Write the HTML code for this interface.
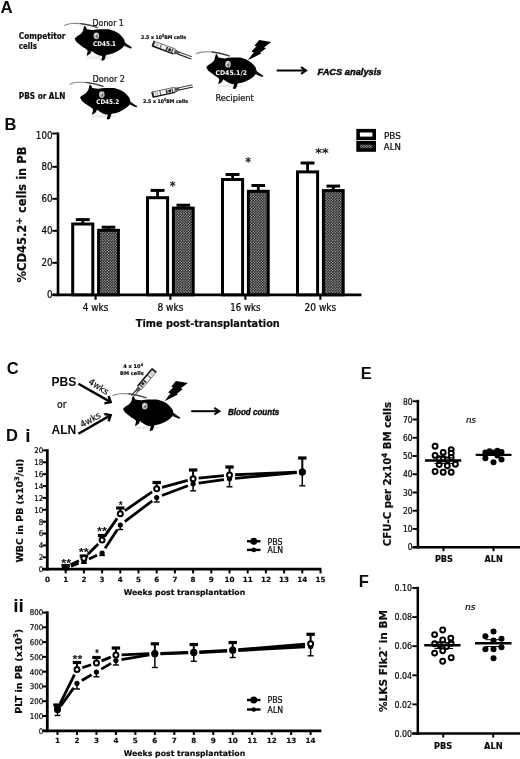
<!DOCTYPE html>
<html lang="en"><head><meta charset="utf-8"><title>Figure</title>
<style>html,body{margin:0;padding:0;background:#fff}svg{display:block;will-change:transform;filter:blur(.35px)}text{stroke:none}.r,.ri{stroke:#0b0b0b;stroke-width:.22px}.ai{stroke:#0b0b0b;stroke-width:.45px}.r{font-family:"DejaVu Sans Condensed","Liberation Sans",sans-serif}.ri{font-family:"DejaVu Sans Condensed","Liberation Sans",sans-serif;font-style:italic}.b,.w{font-family:"DejaVu Sans","Liberation Sans",sans-serif;font-weight:bold}.b{stroke:#0b0b0b;stroke-width:.18px}.a{font-family:"Liberation Sans","DejaVu Sans",sans-serif;font-weight:bold}.ai{font-family:"Liberation Sans","DejaVu Sans",sans-serif;font-weight:bold;font-style:italic}</style></head>
<body>
<svg width="520" height="759" viewBox="0 0 520 759">
<defs><pattern id="chk" width="2.7" height="2.7" patternUnits="userSpaceOnUse"><rect width="2.7" height="2.7" fill="#000"/><circle cx="0.675" cy="0.675" r="0.64" fill="#fff"/><circle cx="2.025" cy="2.025" r="0.64" fill="#fff"/></pattern></defs>
<rect width="520" height="759" fill="#fff"/>
<g stroke="#000" fill="#0b0b0b">
<text class="a" x="0.6" y="12.5" font-size="16.8">A</text>
<text class="b" x="18.8" y="38.5" font-size="8.2" textLength="46.6" lengthAdjust="spacingAndGlyphs">Competitor</text>
<text class="b" x="18.8" y="48.5" font-size="8.2" textLength="18.2" lengthAdjust="spacingAndGlyphs">cells</text>
<text class="b" x="18.8" y="98.5" font-size="8.2" textLength="46.6" lengthAdjust="spacingAndGlyphs">PBS or ALN</text>
<g transform="translate(74.6 38.5) scale(1)" stroke="none">
<path d="M23 -11 C 16 -13.5, 6 -15.5, -2 -15 C -6 -14.7, -8.5 -14, -10 -13" fill="none" stroke="#8a8a8a" stroke-width="1.1" stroke-linecap="round"/>
<path d="M23 -11 C 18 -12.8, 12 -14.3, 6 -14.9" fill="none" stroke="#444" stroke-width="1.3" stroke-linecap="round"/>
<ellipse cx="24" cy="19" rx="13" ry="1.6" fill="#ececec"/>
<path d="M0 0 C 1.5 -1.5, 3.5 -2.8, 5.4 -3.9 C 6.8 -5, 7.8 -6.4, 8.5 -7.7 C 8.8 -9.8, 9.3 -11.8, 10 -13.1 C 11 -12, 11.8 -10.6, 12.3 -9.3 C 14.5 -8.9, 16.5 -8.6, 18.5 -8.5 C 21 -9, 23 -9.3, 25.4 -9.3 L 33.1 -9.3 C 36 -8.9, 38.5 -8.1, 40.8 -7 C 43.3 -5.8, 45.4 -4.2, 47 -2.3 C 48.5 -1, 49.6 0.6, 50 2.3 C 50.4 3.6, 50.4 5, 50 6.2 C 49.4 7.8, 48.4 9, 47 10 C 44.6 11.9, 42 13.4, 39.2 14.6 C 36.8 15.6, 34.2 16.2, 31.5 16.5 C 31 18.2, 30.4 20, 29.8 21.6 L 27.4 22.2 L 26.6 21.2 C 27.4 20, 27.8 18.6, 27.6 17.3 C 25 17.2, 23.2 16.4, 21.5 15.4 C 19.8 14.5, 18.3 13.4, 16.9 12.3 C 16.8 13.6, 16 14.8, 15 15.6 C 14.2 16.3, 13.2 16.9, 12 17.4 C 12.4 15.8, 12.8 14, 13.1 12.3 C 12.4 11.5, 11.6 10.7, 10.8 10 C 9.2 9.1, 7.7 8, 6.2 6.9 C 5.1 6.2, 4.1 5.4, 3.1 4.6 C 1.8 3.4, 0.6 1.8, 0 0 Z" fill="#000"/>
<path d="M49.6 3.6 C 52 5.2, 54.8 7.4, 57.2 8.8 L 56.4 10.2 C 53.4 9.2, 50.6 7.8, 48.6 6.8 Z" fill="#111"/>
<ellipse cx="21.8" cy="-2.7" rx="2.8" ry="3.4" fill="#c2c2c2"/>
<ellipse cx="22.2" cy="-2.2" rx="1.1" ry="1.8" fill="#6a6a6a"/>
<ellipse cx="21.2" cy="-3.8" rx="1" ry="0.9" fill="#e2e2e2"/>
</g>
<g transform="translate(80 97.3) scale(1)" stroke="none">
<path d="M23 -11 C 16 -13.5, 6 -15.5, -2 -15 C -6 -14.7, -8.5 -14, -10 -13" fill="none" stroke="#8a8a8a" stroke-width="1.1" stroke-linecap="round"/>
<path d="M23 -11 C 18 -12.8, 12 -14.3, 6 -14.9" fill="none" stroke="#444" stroke-width="1.3" stroke-linecap="round"/>
<ellipse cx="24" cy="19" rx="13" ry="1.6" fill="#ececec"/>
<path d="M0 0 C 1.5 -1.5, 3.5 -2.8, 5.4 -3.9 C 6.8 -5, 7.8 -6.4, 8.5 -7.7 C 8.8 -9.8, 9.3 -11.8, 10 -13.1 C 11 -12, 11.8 -10.6, 12.3 -9.3 C 14.5 -8.9, 16.5 -8.6, 18.5 -8.5 C 21 -9, 23 -9.3, 25.4 -9.3 L 33.1 -9.3 C 36 -8.9, 38.5 -8.1, 40.8 -7 C 43.3 -5.8, 45.4 -4.2, 47 -2.3 C 48.5 -1, 49.6 0.6, 50 2.3 C 50.4 3.6, 50.4 5, 50 6.2 C 49.4 7.8, 48.4 9, 47 10 C 44.6 11.9, 42 13.4, 39.2 14.6 C 36.8 15.6, 34.2 16.2, 31.5 16.5 C 31 18.2, 30.4 20, 29.8 21.6 L 27.4 22.2 L 26.6 21.2 C 27.4 20, 27.8 18.6, 27.6 17.3 C 25 17.2, 23.2 16.4, 21.5 15.4 C 19.8 14.5, 18.3 13.4, 16.9 12.3 C 16.8 13.6, 16 14.8, 15 15.6 C 14.2 16.3, 13.2 16.9, 12 17.4 C 12.4 15.8, 12.8 14, 13.1 12.3 C 12.4 11.5, 11.6 10.7, 10.8 10 C 9.2 9.1, 7.7 8, 6.2 6.9 C 5.1 6.2, 4.1 5.4, 3.1 4.6 C 1.8 3.4, 0.6 1.8, 0 0 Z" fill="#000"/>
<path d="M49.6 3.6 C 52 5.2, 54.8 7.4, 57.2 8.8 L 56.4 10.2 C 53.4 9.2, 50.6 7.8, 48.6 6.8 Z" fill="#111"/>
<ellipse cx="21.8" cy="-2.7" rx="2.8" ry="3.4" fill="#c2c2c2"/>
<ellipse cx="22.2" cy="-2.2" rx="1.1" ry="1.8" fill="#6a6a6a"/>
<ellipse cx="21.2" cy="-3.8" rx="1" ry="0.9" fill="#e2e2e2"/>
</g>
<g transform="translate(206.2 66.9) scale(1)" stroke="none">
<path d="M23 -11 C 16 -13.5, 6 -15.5, -2 -15 C -6 -14.7, -8.5 -14, -10 -13" fill="none" stroke="#8a8a8a" stroke-width="1.1" stroke-linecap="round"/>
<path d="M23 -11 C 18 -12.8, 12 -14.3, 6 -14.9" fill="none" stroke="#444" stroke-width="1.3" stroke-linecap="round"/>
<ellipse cx="24" cy="19" rx="13" ry="1.6" fill="#ececec"/>
<path d="M0 0 C 1.5 -1.5, 3.5 -2.8, 5.4 -3.9 C 6.8 -5, 7.8 -6.4, 8.5 -7.7 C 8.8 -9.8, 9.3 -11.8, 10 -13.1 C 11 -12, 11.8 -10.6, 12.3 -9.3 C 14.5 -8.9, 16.5 -8.6, 18.5 -8.5 C 21 -9, 23 -9.3, 25.4 -9.3 L 33.1 -9.3 C 36 -8.9, 38.5 -8.1, 40.8 -7 C 43.3 -5.8, 45.4 -4.2, 47 -2.3 C 48.5 -1, 49.6 0.6, 50 2.3 C 50.4 3.6, 50.4 5, 50 6.2 C 49.4 7.8, 48.4 9, 47 10 C 44.6 11.9, 42 13.4, 39.2 14.6 C 36.8 15.6, 34.2 16.2, 31.5 16.5 C 31 18.2, 30.4 20, 29.8 21.6 L 27.4 22.2 L 26.6 21.2 C 27.4 20, 27.8 18.6, 27.6 17.3 C 25 17.2, 23.2 16.4, 21.5 15.4 C 19.8 14.5, 18.3 13.4, 16.9 12.3 C 16.8 13.6, 16 14.8, 15 15.6 C 14.2 16.3, 13.2 16.9, 12 17.4 C 12.4 15.8, 12.8 14, 13.1 12.3 C 12.4 11.5, 11.6 10.7, 10.8 10 C 9.2 9.1, 7.7 8, 6.2 6.9 C 5.1 6.2, 4.1 5.4, 3.1 4.6 C 1.8 3.4, 0.6 1.8, 0 0 Z" fill="#000"/>
<path d="M49.6 3.6 C 52 5.2, 54.8 7.4, 57.2 8.8 L 56.4 10.2 C 53.4 9.2, 50.6 7.8, 48.6 6.8 Z" fill="#111"/>
<ellipse cx="21.8" cy="-2.7" rx="2.8" ry="3.4" fill="#c2c2c2"/>
<ellipse cx="22.2" cy="-2.2" rx="1.1" ry="1.8" fill="#6a6a6a"/>
<ellipse cx="21.2" cy="-3.8" rx="1" ry="0.9" fill="#e2e2e2"/>
</g>
<text class="r" x="92.6" y="25.8" font-size="8.8" fill="#222" textLength="31.2" lengthAdjust="spacingAndGlyphs">Donor 1</text>
<text class="r" x="92.6" y="82" font-size="8.8" fill="#222" textLength="32.4" lengthAdjust="spacingAndGlyphs">Donor 2</text>
<text class="r" x="215.4" y="100.8" font-size="8.8" fill="#222" textLength="38.4" lengthAdjust="spacingAndGlyphs">Recipient</text>
<text class="w" x="93.1" y="45.5" font-size="6.4" fill="#fff" textLength="23" lengthAdjust="spacingAndGlyphs">CD45.1</text>
<text class="w" x="96.2" y="103.8" font-size="6.4" fill="#fff" textLength="23" lengthAdjust="spacingAndGlyphs">CD45.2</text>
<text class="w" x="215.4" y="74.6" font-size="6.4" fill="#fff" textLength="31.6" lengthAdjust="spacingAndGlyphs">CD45.1/2</text>
<text class="b" x="141" y="38.8" font-size="5.1" textLength="45" lengthAdjust="spacingAndGlyphs">2.5 x 10<tspan dy="-2" font-size="3.5">5</tspan><tspan dy="2">BM cells</tspan></text>
<text class="b" x="143" y="103.4" font-size="5.1" textLength="45" lengthAdjust="spacingAndGlyphs">2.5 x 10<tspan dy="-2" font-size="3.5">5</tspan><tspan dy="2">BM cells</tspan></text>
<g transform="translate(153.3 43.6) rotate(20.5)" stroke="none">
<rect x="0" y="-2.6" width="22.5" height="5.2" fill="#f2f2f2"/>
<rect x="-0.8" y="-2.9" width="2" height="5.8" fill="#222"/>
<rect x="2.2" y="-1.7" width="3.6" height="3.2" fill="#cfcfcf"/>
<rect x="7.4" y="-2.4" width="1.1" height="4.6" fill="#666"/>
<rect x="13.6" y="-1.9" width="1.6" height="3.6" fill="#333"/>
<rect x="16.2" y="-1.3" width="2.6" height="2.8" fill="#222"/>
<rect x="19.6" y="-2" width="1.3" height="4" fill="#444"/>
<line x1="0" y1="-2.6" x2="22.5" y2="-2.6" stroke="#6e6e6e" stroke-width="0.9"/>
<line x1="0" y1="2.6" x2="22.5" y2="2.6" stroke="#111" stroke-width="1.5"/>
<path d="M22.5 -2.6 L27.5 -1.4 L27.5 1.4 L22.5 2.6 Z" fill="#555"/>
<line x1="27" y1="-1.15" x2="41" y2="-1.15" stroke="#333" stroke-width="0.9"/>
<line x1="27" y1="1.15" x2="41" y2="1.15" stroke="#1a1a1a" stroke-width="1.1"/>
</g>
<g transform="translate(152.6 94.6) rotate(-12.2)" stroke="none">
<rect x="0" y="-2.6" width="22.5" height="5.2" fill="#f2f2f2"/>
<rect x="-0.8" y="-2.9" width="2" height="5.8" fill="#222"/>
<rect x="2.2" y="-1.7" width="3.6" height="3.2" fill="#cfcfcf"/>
<rect x="7.4" y="-2.4" width="1.1" height="4.6" fill="#666"/>
<rect x="13.6" y="-1.9" width="1.6" height="3.6" fill="#333"/>
<rect x="16.2" y="-1.3" width="2.6" height="2.8" fill="#222"/>
<rect x="19.6" y="-2" width="1.3" height="4" fill="#444"/>
<line x1="0" y1="-2.6" x2="22.5" y2="-2.6" stroke="#6e6e6e" stroke-width="0.9"/>
<line x1="0" y1="2.6" x2="22.5" y2="2.6" stroke="#111" stroke-width="1.5"/>
<path d="M22.5 -2.6 L27.5 -1.4 L27.5 1.4 L22.5 2.6 Z" fill="#555"/>
<line x1="27" y1="-1.15" x2="41" y2="-1.15" stroke="#333" stroke-width="0.9"/>
<line x1="27" y1="1.15" x2="41" y2="1.15" stroke="#1a1a1a" stroke-width="1.1"/>
</g>
<path d="M259.2 40.1 L271.1 42.1 L263.9 47.5 L266.2 47.9 L259.9 52.9 L261.6 53.3 L247.8 60.3 L253.8 52.2 L251.4 51.5 L256.5 46.2 L254.5 45.7 Z" fill="#000" stroke="none"/>
<g transform="translate(276.7 70.5) rotate(0)" fill="none">
<line x1="0" y1="0" x2="28.36" y2="0" stroke-width="2"/>
<path d="M24.3 -3.3 L29.36 0 L24.3 3.3" stroke-width="2" stroke-linejoin="miter"/>
</g>
<text class="ai" x="317.5" y="74.75" font-size="9.7" textLength="64" lengthAdjust="spacingAndGlyphs">FACS analysis</text>
<text class="a" x="4.4" y="130" font-size="16.5">B</text>
<line x1="58" y1="132.5" x2="58" y2="296.2" stroke-width="2.6"/>
<line x1="52.5" y1="294.8" x2="361.5" y2="294.8" stroke-width="2.8"/>
<line x1="52.3" y1="294.8" x2="58" y2="294.8" stroke-width="2"/>
<text class="r" x="52.5" y="298.35" font-size="9.8" text-anchor="end" textLength="5.55" lengthAdjust="spacingAndGlyphs">0</text>
<line x1="52.3" y1="262.8" x2="58" y2="262.8" stroke-width="2"/>
<text class="r" x="52.5" y="266.35" font-size="9.8" text-anchor="end" textLength="11.1" lengthAdjust="spacingAndGlyphs">20</text>
<line x1="52.3" y1="230.8" x2="58" y2="230.8" stroke-width="2"/>
<text class="r" x="52.5" y="234.35" font-size="9.8" text-anchor="end" textLength="11.1" lengthAdjust="spacingAndGlyphs">40</text>
<line x1="52.3" y1="198.8" x2="58" y2="198.8" stroke-width="2"/>
<text class="r" x="52.5" y="202.35" font-size="9.8" text-anchor="end" textLength="11.1" lengthAdjust="spacingAndGlyphs">60</text>
<line x1="52.3" y1="166.8" x2="58" y2="166.8" stroke-width="2"/>
<text class="r" x="52.5" y="170.35" font-size="9.8" text-anchor="end" textLength="11.1" lengthAdjust="spacingAndGlyphs">80</text>
<line x1="52.3" y1="133.5" x2="58" y2="133.5" stroke-width="2"/>
<text class="r" x="52.5" y="138.85" font-size="9.8" text-anchor="end" textLength="16.65" lengthAdjust="spacingAndGlyphs">100</text>
<line x1="95.6" y1="294.8" x2="95.6" y2="299.8" stroke-width="2.2"/>
<text class="r" x="95.6" y="311.3" font-size="9.6" text-anchor="middle" textLength="25.5" lengthAdjust="spacingAndGlyphs">4 wks</text>
<line x1="82.75" y1="223.5" x2="82.75" y2="219.6" stroke-width="2.8"/>
<line x1="75.8" y1="219.6" x2="89.7" y2="219.6" stroke-width="3"/>
<rect x="72.7" y="224" width="20.1" height="70.8" fill="#fff" stroke-width="3.0"/>
<line x1="108.5" y1="229.8" x2="108.5" y2="227.2" stroke-width="2.8"/>
<line x1="101.7" y1="227.2" x2="115.3" y2="227.2" stroke-width="3"/>
<rect x="98.6" y="230.3" width="19.8" height="64.5" fill="url(#chk)" stroke-width="3.0"/>
<line x1="170.4" y1="294.8" x2="170.4" y2="299.8" stroke-width="2.2"/>
<text class="r" x="170.4" y="311.3" font-size="9.6" text-anchor="middle" textLength="26" lengthAdjust="spacingAndGlyphs">8 wks</text>
<line x1="157.55" y1="197.2" x2="157.55" y2="190.4" stroke-width="2.8"/>
<line x1="150.6" y1="190.4" x2="164.5" y2="190.4" stroke-width="3"/>
<rect x="147.5" y="197.7" width="20.1" height="97.1" fill="#fff" stroke-width="3.0"/>
<line x1="183.3" y1="207.6" x2="183.3" y2="205.2" stroke-width="2.8"/>
<line x1="176.5" y1="205.2" x2="190.1" y2="205.2" stroke-width="3"/>
<rect x="173.4" y="208.1" width="19.8" height="86.7" fill="url(#chk)" stroke-width="3.0"/>
<line x1="245.4" y1="294.8" x2="245.4" y2="299.8" stroke-width="2.2"/>
<text class="r" x="245.4" y="311.3" font-size="9.6" text-anchor="middle" textLength="30.2" lengthAdjust="spacingAndGlyphs">16 wks</text>
<line x1="232.55" y1="179" x2="232.55" y2="174.5" stroke-width="2.8"/>
<line x1="225.6" y1="174.5" x2="239.5" y2="174.5" stroke-width="3"/>
<rect x="222.5" y="179.5" width="20.1" height="115.3" fill="#fff" stroke-width="3.0"/>
<line x1="258.3" y1="190.8" x2="258.3" y2="185.5" stroke-width="2.8"/>
<line x1="251.5" y1="185.5" x2="265.1" y2="185.5" stroke-width="3"/>
<rect x="248.4" y="191.3" width="19.8" height="103.5" fill="url(#chk)" stroke-width="3.0"/>
<line x1="320.4" y1="294.8" x2="320.4" y2="299.8" stroke-width="2.2"/>
<text class="r" x="320.4" y="311.3" font-size="9.6" text-anchor="middle" textLength="31.7" lengthAdjust="spacingAndGlyphs">20 wks</text>
<line x1="307.55" y1="171.4" x2="307.55" y2="163" stroke-width="2.8"/>
<line x1="300.6" y1="163" x2="314.5" y2="163" stroke-width="3"/>
<rect x="297.5" y="171.9" width="20.1" height="122.9" fill="#fff" stroke-width="3.0"/>
<line x1="333.3" y1="190.1" x2="333.3" y2="186.1" stroke-width="2.8"/>
<line x1="326.5" y1="186.1" x2="340.1" y2="186.1" stroke-width="3"/>
<rect x="323.4" y="190.6" width="19.8" height="104.2" fill="url(#chk)" stroke-width="3.0"/>
<text class="r" x="172.7" y="189.6" font-size="13" text-anchor="middle">*</text>
<text class="r" x="248.3" y="165.6" font-size="13" text-anchor="middle">*</text>
<text class="r" x="322" y="157.3" font-size="13" text-anchor="middle" textLength="13.4" lengthAdjust="spacingAndGlyphs">**</text>
<rect x="358.1" y="130.7" width="16.1" height="7.7" fill="#fff" stroke-width="3.6"/>
<rect x="358.1" y="142.8" width="16.1" height="7.2" fill="url(#chk)" stroke-width="3.6"/>
<text class="r" x="384" y="139.1" font-size="9.5" textLength="16.8" lengthAdjust="spacingAndGlyphs">PBS</text>
<text class="r" x="383.8" y="149.9" font-size="9.5" textLength="17" lengthAdjust="spacingAndGlyphs">ALN</text>
<text class="b" x="135.8" y="326.5" font-size="9.8" textLength="144" lengthAdjust="spacingAndGlyphs">Time post-transplantation</text>
<text class="b" font-size="11.5" text-anchor="middle" transform="translate(26.3 214.5) rotate(-90)" textLength="135.8" lengthAdjust="spacingAndGlyphs">%CD45.2<tspan dy="-4.8" font-size="9">+</tspan><tspan dy="4.8"> cells in PB</tspan></text>
<text class="a" x="6.8" y="373.7" font-size="16.5">C</text>
<text class="a" x="51.5" y="386.2" font-size="12.2" textLength="24.8" lengthAdjust="spacingAndGlyphs">PBS</text>
<text class="r" x="57.1" y="407.7" font-size="10.5" textLength="9.6" lengthAdjust="spacingAndGlyphs">or</text>
<text class="a" x="51.5" y="433.8" font-size="12.2" textLength="24.8" lengthAdjust="spacingAndGlyphs">ALN</text>
<g transform="translate(78.4 383.7) rotate(29.74)" fill="none">
<line x1="0" y1="0" x2="36.21" y2="0" stroke-width="2.4"/>
<path d="M32.3 -4.2 L37.21 0 L32.3 4.2" stroke-width="2.4" stroke-linejoin="miter"/>
</g>
<g transform="translate(78.4 433.7) rotate(-29.87)" fill="none">
<line x1="0" y1="0" x2="36.26" y2="0" stroke-width="2.4"/>
<path d="M32.35 -4.2 L37.26 0 L32.35 4.2" stroke-width="2.4" stroke-linejoin="miter"/>
</g>
<text class="r" x="87.8" y="383.2" font-size="9" fill="#1a1a1a" textLength="22" lengthAdjust="spacingAndGlyphs" transform="rotate(33 87.8 383.2)">4wks</text>
<text class="r" x="82.2" y="427.8" font-size="9" fill="#1a1a1a" textLength="22" lengthAdjust="spacingAndGlyphs" transform="rotate(-29 82.2 427.8)">4wks</text>
<text class="b" x="123.3" y="368.2" font-size="5.2" textLength="19.8" lengthAdjust="spacingAndGlyphs">4 x 10<tspan dy="-2.4" font-size="3.6">6</tspan></text>
<text class="b" x="120" y="374.7" font-size="5.2" textLength="23.7" lengthAdjust="spacingAndGlyphs">BM cells</text>
<g transform="translate(154.2 370.4) rotate(130.2)" stroke="none">
<rect x="0" y="-2.6" width="22.5" height="5.2" fill="#f2f2f2"/>
<rect x="-0.8" y="-2.9" width="2" height="5.8" fill="#222"/>
<rect x="2.2" y="-1.7" width="3.6" height="3.2" fill="#cfcfcf"/>
<rect x="7.4" y="-2.4" width="1.1" height="4.6" fill="#666"/>
<rect x="13.6" y="-1.9" width="1.6" height="3.6" fill="#333"/>
<rect x="16.2" y="-1.3" width="2.6" height="2.8" fill="#222"/>
<rect x="19.6" y="-2" width="1.3" height="4" fill="#444"/>
<line x1="0" y1="-2.6" x2="22.5" y2="-2.6" stroke="#6e6e6e" stroke-width="0.9"/>
<line x1="0" y1="2.6" x2="22.5" y2="2.6" stroke="#111" stroke-width="1.5"/>
<path d="M22.5 -2.6 L27.5 -1.4 L27.5 1.4 L22.5 2.6 Z" fill="#555"/>
<line x1="27" y1="-1.15" x2="34" y2="-1.15" stroke="#333" stroke-width="0.9"/>
<line x1="27" y1="1.15" x2="34" y2="1.15" stroke="#1a1a1a" stroke-width="1.1"/>
</g>
<g transform="translate(123 408.75) scale(1)" stroke="none">
<path d="M23 -11 C 16 -13.5, 6 -15.5, -2 -15 C -6 -14.7, -8.5 -14, -10 -13" fill="none" stroke="#8a8a8a" stroke-width="1.1" stroke-linecap="round"/>
<path d="M23 -11 C 18 -12.8, 12 -14.3, 6 -14.9" fill="none" stroke="#444" stroke-width="1.3" stroke-linecap="round"/>
<ellipse cx="24" cy="19" rx="13" ry="1.6" fill="#ececec"/>
<path d="M0 0 C 1.5 -1.5, 3.5 -2.8, 5.4 -3.9 C 6.8 -5, 7.8 -6.4, 8.5 -7.7 C 8.8 -9.8, 9.3 -11.8, 10 -13.1 C 11 -12, 11.8 -10.6, 12.3 -9.3 C 14.5 -8.9, 16.5 -8.6, 18.5 -8.5 C 21 -9, 23 -9.3, 25.4 -9.3 L 33.1 -9.3 C 36 -8.9, 38.5 -8.1, 40.8 -7 C 43.3 -5.8, 45.4 -4.2, 47 -2.3 C 48.5 -1, 49.6 0.6, 50 2.3 C 50.4 3.6, 50.4 5, 50 6.2 C 49.4 7.8, 48.4 9, 47 10 C 44.6 11.9, 42 13.4, 39.2 14.6 C 36.8 15.6, 34.2 16.2, 31.5 16.5 C 31 18.2, 30.4 20, 29.8 21.6 L 27.4 22.2 L 26.6 21.2 C 27.4 20, 27.8 18.6, 27.6 17.3 C 25 17.2, 23.2 16.4, 21.5 15.4 C 19.8 14.5, 18.3 13.4, 16.9 12.3 C 16.8 13.6, 16 14.8, 15 15.6 C 14.2 16.3, 13.2 16.9, 12 17.4 C 12.4 15.8, 12.8 14, 13.1 12.3 C 12.4 11.5, 11.6 10.7, 10.8 10 C 9.2 9.1, 7.7 8, 6.2 6.9 C 5.1 6.2, 4.1 5.4, 3.1 4.6 C 1.8 3.4, 0.6 1.8, 0 0 Z" fill="#000"/>
<path d="M49.6 3.6 C 52 5.2, 54.8 7.4, 57.2 8.8 L 56.4 10.2 C 53.4 9.2, 50.6 7.8, 48.6 6.8 Z" fill="#111"/>
<ellipse cx="21.8" cy="-2.7" rx="2.8" ry="3.4" fill="#c2c2c2"/>
<ellipse cx="22.2" cy="-2.2" rx="1.1" ry="1.8" fill="#6a6a6a"/>
<ellipse cx="21.2" cy="-3.8" rx="1" ry="0.9" fill="#e2e2e2"/>
</g>
<path d="M175.9 381.1 L187.8 383.1 L180.6 388.5 L182.9 388.9 L176.6 393.9 L178.3 394.3 L164.5 401.3 L170.5 393.2 L168.1 392.5 L173.2 387.2 L171.2 386.7 Z" fill="#000" stroke="none"/>
<g transform="translate(191.2 411.2) rotate(0)" fill="none">
<line x1="0" y1="0" x2="27.16" y2="0" stroke-width="2"/>
<path d="M23.1 -3.3 L28.16 0 L23.1 3.3" stroke-width="2" stroke-linejoin="miter"/>
</g>
<text class="ai" x="228" y="414.7" font-size="9.7" textLength="51.3" lengthAdjust="spacingAndGlyphs">Blood counts</text>
<text class="a" x="6" y="441" font-size="16.5">D</text>
<text class="a" x="25.2" y="442.2" font-size="19">i</text>
<line x1="47.3" y1="449.3" x2="47.3" y2="570.6" stroke-width="2.8"/>
<line x1="42.6" y1="569.2" x2="321.4" y2="569.2" stroke-width="2.8"/>
<line x1="42.6" y1="569.2" x2="47.3" y2="569.2" stroke-width="2"/>
<text class="r" x="43.2" y="572.1" font-size="7.8" text-anchor="end">0</text>
<line x1="42.6" y1="557.32" x2="47.3" y2="557.32" stroke-width="2"/>
<text class="r" x="43.2" y="560.22" font-size="7.8" text-anchor="end">2</text>
<line x1="42.6" y1="545.44" x2="47.3" y2="545.44" stroke-width="2"/>
<text class="r" x="43.2" y="548.34" font-size="7.8" text-anchor="end">4</text>
<line x1="42.6" y1="533.56" x2="47.3" y2="533.56" stroke-width="2"/>
<text class="r" x="43.2" y="536.46" font-size="7.8" text-anchor="end">6</text>
<line x1="42.6" y1="521.68" x2="47.3" y2="521.68" stroke-width="2"/>
<text class="r" x="43.2" y="524.58" font-size="7.8" text-anchor="end">8</text>
<line x1="42.6" y1="509.8" x2="47.3" y2="509.8" stroke-width="2"/>
<text class="r" x="43.2" y="512.7" font-size="7.8" text-anchor="end">10</text>
<line x1="42.6" y1="497.92" x2="47.3" y2="497.92" stroke-width="2"/>
<text class="r" x="43.2" y="500.82" font-size="7.8" text-anchor="end">12</text>
<line x1="42.6" y1="486.04" x2="47.3" y2="486.04" stroke-width="2"/>
<text class="r" x="43.2" y="488.94" font-size="7.8" text-anchor="end">14</text>
<line x1="42.6" y1="474.16" x2="47.3" y2="474.16" stroke-width="2"/>
<text class="r" x="43.2" y="477.06" font-size="7.8" text-anchor="end">16</text>
<line x1="42.6" y1="462.28" x2="47.3" y2="462.28" stroke-width="2"/>
<text class="r" x="43.2" y="465.18" font-size="7.8" text-anchor="end">18</text>
<line x1="42.6" y1="450.4" x2="47.3" y2="450.4" stroke-width="2"/>
<text class="r" x="43.2" y="453.3" font-size="7.8" text-anchor="end">20</text>
<text class="b" x="47.5" y="581.5" font-size="7.2" text-anchor="middle">0</text>
<line x1="65.7" y1="569.2" x2="65.7" y2="573.4" stroke-width="2"/>
<text class="b" x="65.7" y="581.5" font-size="7.2" text-anchor="middle">1</text>
<line x1="83.9" y1="569.2" x2="83.9" y2="573.4" stroke-width="2"/>
<text class="b" x="83.9" y="581.5" font-size="7.2" text-anchor="middle">2</text>
<line x1="102.1" y1="569.2" x2="102.1" y2="573.4" stroke-width="2"/>
<text class="b" x="102.1" y="581.5" font-size="7.2" text-anchor="middle">3</text>
<line x1="120.3" y1="569.2" x2="120.3" y2="573.4" stroke-width="2"/>
<text class="b" x="120.3" y="581.5" font-size="7.2" text-anchor="middle">4</text>
<line x1="138.5" y1="569.2" x2="138.5" y2="573.4" stroke-width="2"/>
<text class="b" x="138.5" y="581.5" font-size="7.2" text-anchor="middle">5</text>
<line x1="156.7" y1="569.2" x2="156.7" y2="573.4" stroke-width="2"/>
<text class="b" x="156.7" y="581.5" font-size="7.2" text-anchor="middle">6</text>
<line x1="174.9" y1="569.2" x2="174.9" y2="573.4" stroke-width="2"/>
<text class="b" x="174.9" y="581.5" font-size="7.2" text-anchor="middle">7</text>
<line x1="193.1" y1="569.2" x2="193.1" y2="573.4" stroke-width="2"/>
<text class="b" x="193.1" y="581.5" font-size="7.2" text-anchor="middle">8</text>
<line x1="211.3" y1="569.2" x2="211.3" y2="573.4" stroke-width="2"/>
<text class="b" x="211.3" y="581.5" font-size="7.2" text-anchor="middle">9</text>
<line x1="229.5" y1="569.2" x2="229.5" y2="573.4" stroke-width="2"/>
<text class="b" x="229.5" y="581.5" font-size="7.2" text-anchor="middle">10</text>
<line x1="247.7" y1="569.2" x2="247.7" y2="573.4" stroke-width="2"/>
<text class="b" x="247.7" y="581.5" font-size="7.2" text-anchor="middle">11</text>
<line x1="265.9" y1="569.2" x2="265.9" y2="573.4" stroke-width="2"/>
<text class="b" x="265.9" y="581.5" font-size="7.2" text-anchor="middle">12</text>
<line x1="284.1" y1="569.2" x2="284.1" y2="573.4" stroke-width="2"/>
<text class="b" x="284.1" y="581.5" font-size="7.2" text-anchor="middle">13</text>
<line x1="302.3" y1="569.2" x2="302.3" y2="573.4" stroke-width="2"/>
<text class="b" x="302.3" y="581.5" font-size="7.2" text-anchor="middle">14</text>
<line x1="320.5" y1="569.2" x2="320.5" y2="573.4" stroke-width="2"/>
<text class="b" x="320.5" y="581.5" font-size="7.2" text-anchor="middle">15</text>
<text class="b" x="123.75" y="594.6" font-size="7.8" textLength="121.5" lengthAdjust="spacingAndGlyphs">Weeks post transplantation</text>
<text class="b" font-size="8.6" text-anchor="middle" transform="translate(23 510.6) rotate(-90)" textLength="103.8" lengthAdjust="spacingAndGlyphs">WBC in PB (x10<tspan dy="-3.6" font-size="6.3">3</tspan><tspan dy="3.6">/ul)</tspan></text>
<path d="M70.96 566.07 L78.64 563.23 M89 558.98 L97 555.32 M105.15 548.3 L117.25 529.7 M124.77 521.62 L152.23 500.88 M161.94 495.53 L187.86 485.77 M198.65 483.04 L223.95 479.56 M235.08 478.29 L296.72 472.71" fill="none" stroke-width="2.8"/>
<path d="M70.71 564.8 L78.89 560.7 M87.86 554.24 L98.14 543.96 M105.29 535.4 L117.11 518.4 M124.92 510.63 L152.08 491.97 M162.1 487.32 L187.7 480.28 M198.67 478.22 L223.93 475.58 M235.1 474.77 L296.7 472.23" fill="none" stroke-width="2.8"/>
<line x1="65.7" y1="568" x2="65.7" y2="569" stroke-width="1.5"/>
<line x1="62.7" y1="569" x2="68.7" y2="569" stroke-width="1.4"/>
<line x1="83.9" y1="561.3" x2="83.9" y2="563.2" stroke-width="1.5"/>
<line x1="80.9" y1="563.2" x2="86.9" y2="563.2" stroke-width="1.4"/>
<line x1="102.1" y1="553" x2="102.1" y2="555.5" stroke-width="1.5"/>
<line x1="99.1" y1="555.5" x2="105.1" y2="555.5" stroke-width="1.4"/>
<line x1="120.3" y1="525" x2="120.3" y2="529.5" stroke-width="1.5"/>
<line x1="117.3" y1="529.5" x2="123.3" y2="529.5" stroke-width="1.4"/>
<line x1="156.7" y1="497.5" x2="156.7" y2="502" stroke-width="1.5"/>
<line x1="153.7" y1="502" x2="159.7" y2="502" stroke-width="1.4"/>
<line x1="193.1" y1="483.8" x2="193.1" y2="490.8" stroke-width="1.5"/>
<line x1="190.1" y1="490.8" x2="196.1" y2="490.8" stroke-width="1.4"/>
<line x1="229.5" y1="478.8" x2="229.5" y2="486.8" stroke-width="1.5"/>
<line x1="226.5" y1="486.8" x2="232.5" y2="486.8" stroke-width="1.4"/>
<line x1="302.3" y1="472.2" x2="302.3" y2="485.8" stroke-width="1.5"/>
<line x1="299.3" y1="485.8" x2="305.3" y2="485.8" stroke-width="1.4"/>
<line x1="65.7" y1="567.3" x2="65.7" y2="565.6" stroke-width="2"/>
<line x1="61.5" y1="565.6" x2="69.9" y2="565.6" stroke-width="3.2"/>
<line x1="83.9" y1="558.2" x2="83.9" y2="556" stroke-width="2"/>
<line x1="79.7" y1="556" x2="88.1" y2="556" stroke-width="3.2"/>
<line x1="102.1" y1="540" x2="102.1" y2="535.5" stroke-width="2"/>
<line x1="97.9" y1="535.5" x2="106.3" y2="535.5" stroke-width="3.2"/>
<line x1="120.3" y1="513.8" x2="120.3" y2="508" stroke-width="2"/>
<line x1="116.1" y1="508" x2="124.5" y2="508" stroke-width="3.2"/>
<line x1="156.7" y1="488.8" x2="156.7" y2="482.5" stroke-width="2"/>
<line x1="152.5" y1="482.5" x2="160.9" y2="482.5" stroke-width="3.2"/>
<line x1="193.1" y1="478.8" x2="193.1" y2="470" stroke-width="2"/>
<line x1="188.9" y1="470" x2="197.3" y2="470" stroke-width="3.2"/>
<line x1="229.5" y1="475" x2="229.5" y2="467" stroke-width="2"/>
<line x1="225.3" y1="467" x2="233.7" y2="467" stroke-width="3.2"/>
<line x1="302.3" y1="472" x2="302.3" y2="458" stroke-width="2"/>
<line x1="298.1" y1="458" x2="306.5" y2="458" stroke-width="3.2"/>
<circle cx="65.7" cy="568" r="2.6" fill="#000" stroke="none"/>
<circle cx="83.9" cy="561.3" r="2.6" fill="#000" stroke="none"/>
<circle cx="102.1" cy="553" r="2.6" fill="#000" stroke="none"/>
<circle cx="120.3" cy="525" r="2.6" fill="#000" stroke="none"/>
<circle cx="156.7" cy="497.5" r="2.6" fill="#000" stroke="none"/>
<circle cx="193.1" cy="483.8" r="2.6" fill="#000" stroke="none"/>
<circle cx="229.5" cy="478.8" r="2.6" fill="#000" stroke="none"/>
<circle cx="302.3" cy="472.2" r="2.6" fill="#000" stroke="none"/>
<circle cx="65.7" cy="567.3" r="2.5" fill="#fff" stroke="#000" stroke-width="2"/>
<circle cx="83.9" cy="558.2" r="2.5" fill="#fff" stroke="#000" stroke-width="2"/>
<circle cx="102.1" cy="540" r="2.5" fill="#fff" stroke="#000" stroke-width="2"/>
<circle cx="120.3" cy="513.8" r="2.5" fill="#fff" stroke="#000" stroke-width="2"/>
<circle cx="156.7" cy="488.8" r="2.5" fill="#fff" stroke="#000" stroke-width="2"/>
<circle cx="193.1" cy="478.8" r="2.5" fill="#fff" stroke="#000" stroke-width="2"/>
<circle cx="229.5" cy="475" r="2.5" fill="#fff" stroke="#000" stroke-width="2"/>
<circle cx="302.3" cy="472" r="2.5" fill="#fff" stroke="#000" stroke-width="2"/>
<circle cx="302.3" cy="472" r="3.5" fill="#000" stroke="none"/>
<circle cx="65.7" cy="567.6" r="3.2" fill="#000" stroke="none"/>
<text class="a" x="66.2" y="567.1" font-size="10" text-anchor="middle" textLength="10" lengthAdjust="spacingAndGlyphs">**</text>
<text class="a" x="83.8" y="555.5" font-size="10" text-anchor="middle" textLength="10" lengthAdjust="spacingAndGlyphs">**</text>
<text class="a" x="102" y="535" font-size="10" text-anchor="middle" textLength="10" lengthAdjust="spacingAndGlyphs">**</text>
<text class="a" x="120.6" y="509.3" font-size="10" text-anchor="middle">*</text>
<line x1="247" y1="541.25" x2="260.5" y2="541.25" stroke-width="2.4"/>
<circle cx="253.75" cy="541.25" r="3.5" fill="#000" stroke="none"/>
<line x1="247" y1="549.9" x2="260.5" y2="549.9" stroke-width="2.4"/>
<circle cx="253.75" cy="549.9" r="2.3" fill="#000" stroke="none"/>
<text class="r" x="267.6" y="544.5" font-size="8.3" textLength="15" lengthAdjust="spacingAndGlyphs">PBS</text>
<text class="r" x="267.6" y="553.3" font-size="8.3" textLength="15.4" lengthAdjust="spacingAndGlyphs">ALN</text>
<text class="a" x="13.2" y="611.6" font-size="18.5" textLength="10.6" lengthAdjust="spacingAndGlyphs">ii</text>
<line x1="47.3" y1="611.3" x2="47.3" y2="732.2" stroke-width="2.8"/>
<line x1="42.6" y1="730.8" x2="321.4" y2="730.8" stroke-width="2.8"/>
<line x1="42.6" y1="730.8" x2="47.3" y2="730.8" stroke-width="2"/>
<text class="r" x="43.2" y="733.7" font-size="7.8" text-anchor="end">0</text>
<line x1="42.6" y1="716.02" x2="47.3" y2="716.02" stroke-width="2"/>
<text class="r" x="43.2" y="718.92" font-size="7.8" text-anchor="end">100</text>
<line x1="42.6" y1="701.24" x2="47.3" y2="701.24" stroke-width="2"/>
<text class="r" x="43.2" y="704.14" font-size="7.8" text-anchor="end">200</text>
<line x1="42.6" y1="686.46" x2="47.3" y2="686.46" stroke-width="2"/>
<text class="r" x="43.2" y="689.36" font-size="7.8" text-anchor="end">300</text>
<line x1="42.6" y1="671.68" x2="47.3" y2="671.68" stroke-width="2"/>
<text class="r" x="43.2" y="674.58" font-size="7.8" text-anchor="end">400</text>
<line x1="42.6" y1="656.9" x2="47.3" y2="656.9" stroke-width="2"/>
<text class="r" x="43.2" y="659.8" font-size="7.8" text-anchor="end">500</text>
<line x1="42.6" y1="642.12" x2="47.3" y2="642.12" stroke-width="2"/>
<text class="r" x="43.2" y="645.02" font-size="7.8" text-anchor="end">600</text>
<line x1="42.6" y1="627.34" x2="47.3" y2="627.34" stroke-width="2"/>
<text class="r" x="43.2" y="630.24" font-size="7.8" text-anchor="end">700</text>
<line x1="42.6" y1="612.56" x2="47.3" y2="612.56" stroke-width="2"/>
<text class="r" x="43.2" y="615.46" font-size="7.8" text-anchor="end">800</text>
<line x1="57.5" y1="730.8" x2="57.5" y2="735" stroke-width="2"/>
<text class="b" x="57.5" y="742.5" font-size="7.2" text-anchor="middle">1</text>
<line x1="76.97" y1="730.8" x2="76.97" y2="735" stroke-width="2"/>
<text class="b" x="76.97" y="742.5" font-size="7.2" text-anchor="middle">2</text>
<line x1="96.44" y1="730.8" x2="96.44" y2="735" stroke-width="2"/>
<text class="b" x="96.44" y="742.5" font-size="7.2" text-anchor="middle">3</text>
<line x1="115.91" y1="730.8" x2="115.91" y2="735" stroke-width="2"/>
<text class="b" x="115.91" y="742.5" font-size="7.2" text-anchor="middle">4</text>
<line x1="135.38" y1="730.8" x2="135.38" y2="735" stroke-width="2"/>
<text class="b" x="135.38" y="742.5" font-size="7.2" text-anchor="middle">5</text>
<line x1="154.85" y1="730.8" x2="154.85" y2="735" stroke-width="2"/>
<text class="b" x="154.85" y="742.5" font-size="7.2" text-anchor="middle">6</text>
<line x1="174.32" y1="730.8" x2="174.32" y2="735" stroke-width="2"/>
<text class="b" x="174.32" y="742.5" font-size="7.2" text-anchor="middle">7</text>
<line x1="193.79" y1="730.8" x2="193.79" y2="735" stroke-width="2"/>
<text class="b" x="193.79" y="742.5" font-size="7.2" text-anchor="middle">8</text>
<line x1="213.26" y1="730.8" x2="213.26" y2="735" stroke-width="2"/>
<text class="b" x="213.26" y="742.5" font-size="7.2" text-anchor="middle">9</text>
<line x1="232.73" y1="730.8" x2="232.73" y2="735" stroke-width="2"/>
<text class="b" x="232.73" y="742.5" font-size="7.2" text-anchor="middle">10</text>
<line x1="252.2" y1="730.8" x2="252.2" y2="735" stroke-width="2"/>
<text class="b" x="252.2" y="742.5" font-size="7.2" text-anchor="middle">11</text>
<line x1="271.67" y1="730.8" x2="271.67" y2="735" stroke-width="2"/>
<text class="b" x="271.67" y="742.5" font-size="7.2" text-anchor="middle">12</text>
<line x1="291.14" y1="730.8" x2="291.14" y2="735" stroke-width="2"/>
<text class="b" x="291.14" y="742.5" font-size="7.2" text-anchor="middle">13</text>
<line x1="310.61" y1="730.8" x2="310.61" y2="735" stroke-width="2"/>
<text class="b" x="310.61" y="742.5" font-size="7.2" text-anchor="middle">14</text>
<text class="b" x="123.75" y="756.3" font-size="7.8" textLength="121.5" lengthAdjust="spacingAndGlyphs">Weeks post transplantation</text>
<text class="b" font-size="8.6" text-anchor="middle" transform="translate(21.7 671.3) rotate(-90)" textLength="85" lengthAdjust="spacingAndGlyphs">PLT in PB (x10<tspan dy="-3.6" font-size="6.3">3</tspan><tspan dy="3.6">)</tspan></text>
<path d="M60.76 705.95 L73.71 687.85 M81.81 680.49 L91.6 674.81 M101.26 669.15 L111.09 663.35 M121.43 659.58 L149.33 654.92 M160.45 653.83 L188.19 652.97 M199.38 652.51 L227.14 651.09 M238.32 650.49 L305.02 646.81" fill="none" stroke-width="2.8"/>
<path d="M59.99 703.78 L74.48 674.52 M82.28 667.73 L91.13 664.77 M101.62 660.87 L110.73 657.13 M121.51 654.78 L149.25 653.72 M160.45 653.33 L188.19 652.47 M199.38 651.97 L227.14 650.33 M238.31 649.56 L305.03 644.24" fill="none" stroke-width="2.8"/>
<line x1="57.5" y1="710.5" x2="57.5" y2="715.5" stroke-width="1.5"/>
<line x1="54.5" y1="715.5" x2="60.5" y2="715.5" stroke-width="1.4"/>
<line x1="76.97" y1="683.3" x2="76.97" y2="689" stroke-width="1.5"/>
<line x1="73.97" y1="689" x2="79.97" y2="689" stroke-width="1.4"/>
<line x1="96.44" y1="672" x2="96.44" y2="676.8" stroke-width="1.5"/>
<line x1="93.44" y1="676.8" x2="99.44" y2="676.8" stroke-width="1.4"/>
<line x1="115.91" y1="660.5" x2="115.91" y2="665" stroke-width="1.5"/>
<line x1="112.91" y1="665" x2="118.91" y2="665" stroke-width="1.4"/>
<line x1="154.85" y1="654" x2="154.85" y2="667.5" stroke-width="1.5"/>
<line x1="151.85" y1="667.5" x2="157.85" y2="667.5" stroke-width="1.4"/>
<line x1="193.79" y1="652.8" x2="193.79" y2="661.3" stroke-width="1.5"/>
<line x1="190.79" y1="661.3" x2="196.79" y2="661.3" stroke-width="1.4"/>
<line x1="232.73" y1="650.8" x2="232.73" y2="657.5" stroke-width="1.5"/>
<line x1="229.73" y1="657.5" x2="235.73" y2="657.5" stroke-width="1.4"/>
<line x1="310.61" y1="646.5" x2="310.61" y2="655.8" stroke-width="1.5"/>
<line x1="307.61" y1="655.8" x2="313.61" y2="655.8" stroke-width="1.4"/>
<line x1="57.5" y1="708.8" x2="57.5" y2="705" stroke-width="2"/>
<line x1="53.3" y1="705" x2="61.7" y2="705" stroke-width="3.2"/>
<line x1="76.97" y1="669.5" x2="76.97" y2="662.5" stroke-width="2"/>
<line x1="72.77" y1="662.5" x2="81.17" y2="662.5" stroke-width="3.2"/>
<line x1="96.44" y1="663" x2="96.44" y2="657.5" stroke-width="2"/>
<line x1="92.24" y1="657.5" x2="100.64" y2="657.5" stroke-width="3.2"/>
<line x1="115.91" y1="655" x2="115.91" y2="648" stroke-width="2"/>
<line x1="111.71" y1="648" x2="120.11" y2="648" stroke-width="3.2"/>
<line x1="154.85" y1="653.5" x2="154.85" y2="643.8" stroke-width="2"/>
<line x1="150.65" y1="643.8" x2="159.05" y2="643.8" stroke-width="3.2"/>
<line x1="193.79" y1="652.3" x2="193.79" y2="644.5" stroke-width="2"/>
<line x1="189.59" y1="644.5" x2="197.99" y2="644.5" stroke-width="3.2"/>
<line x1="232.73" y1="650" x2="232.73" y2="642.5" stroke-width="2"/>
<line x1="228.53" y1="642.5" x2="236.93" y2="642.5" stroke-width="3.2"/>
<line x1="310.61" y1="643.8" x2="310.61" y2="634.3" stroke-width="2"/>
<line x1="306.41" y1="634.3" x2="314.81" y2="634.3" stroke-width="3.2"/>
<circle cx="57.5" cy="710.5" r="2.6" fill="#000" stroke="none"/>
<circle cx="76.97" cy="683.3" r="2.6" fill="#000" stroke="none"/>
<circle cx="96.44" cy="672" r="2.6" fill="#000" stroke="none"/>
<circle cx="115.91" cy="660.5" r="2.6" fill="#000" stroke="none"/>
<circle cx="154.85" cy="654" r="2.6" fill="#000" stroke="none"/>
<circle cx="193.79" cy="652.8" r="2.6" fill="#000" stroke="none"/>
<circle cx="232.73" cy="650.8" r="2.6" fill="#000" stroke="none"/>
<circle cx="310.61" cy="646.5" r="2.6" fill="#000" stroke="none"/>
<circle cx="57.5" cy="708.8" r="2.5" fill="#fff" stroke="#000" stroke-width="2"/>
<circle cx="76.97" cy="669.5" r="2.5" fill="#fff" stroke="#000" stroke-width="2"/>
<circle cx="96.44" cy="663" r="2.5" fill="#fff" stroke="#000" stroke-width="2"/>
<circle cx="115.91" cy="655" r="2.5" fill="#fff" stroke="#000" stroke-width="2"/>
<circle cx="154.85" cy="653.5" r="2.5" fill="#fff" stroke="#000" stroke-width="2"/>
<circle cx="193.79" cy="652.3" r="2.5" fill="#fff" stroke="#000" stroke-width="2"/>
<circle cx="232.73" cy="650" r="2.5" fill="#fff" stroke="#000" stroke-width="2"/>
<circle cx="310.61" cy="643.8" r="2.5" fill="#fff" stroke="#000" stroke-width="2"/>
<circle cx="57.5" cy="709.4" r="3.5" fill="#000" stroke="none"/>
<circle cx="154.85" cy="653.7" r="3.5" fill="#000" stroke="none"/>
<circle cx="193.79" cy="652.5" r="3.5" fill="#000" stroke="none"/>
<circle cx="232.73" cy="650.3" r="3.5" fill="#000" stroke="none"/>
<text class="a" x="77.5" y="663.1" font-size="10" text-anchor="middle" textLength="10" lengthAdjust="spacingAndGlyphs">**</text>
<text class="a" x="96.9" y="656.8" font-size="10" text-anchor="middle">*</text>
<line x1="247" y1="700" x2="260.5" y2="700" stroke-width="2.4"/>
<circle cx="253.75" cy="700" r="3.5" fill="#000" stroke="none"/>
<line x1="247" y1="709.5" x2="260.5" y2="709.5" stroke-width="2.4"/>
<circle cx="253.75" cy="709.5" r="2.3" fill="#000" stroke="none"/>
<text class="r" x="267.6" y="703.3" font-size="8.3" textLength="15" lengthAdjust="spacingAndGlyphs">PBS</text>
<text class="r" x="267.6" y="712.5" font-size="8.3" textLength="15.4" lengthAdjust="spacingAndGlyphs">ALN</text>
<text class="a" x="360.8" y="379.2" font-size="16.5">E</text>
<line x1="417.9" y1="399.8" x2="417.9" y2="548.6" stroke-width="2.5"/>
<line x1="412.5" y1="547.2" x2="520" y2="547.2" stroke-width="2.6"/>
<line x1="412.5" y1="547.2" x2="417.9" y2="547.2" stroke-width="1.9"/>
<text class="r" x="412.5" y="550.4" font-size="8.7" text-anchor="end" textLength="4.8" lengthAdjust="spacingAndGlyphs">0</text>
<line x1="412.5" y1="528.96" x2="417.9" y2="528.96" stroke-width="1.9"/>
<text class="r" x="412.5" y="532.16" font-size="8.7" text-anchor="end" textLength="9.6" lengthAdjust="spacingAndGlyphs">10</text>
<line x1="412.5" y1="510.72" x2="417.9" y2="510.72" stroke-width="1.9"/>
<text class="r" x="412.5" y="513.92" font-size="8.7" text-anchor="end" textLength="9.6" lengthAdjust="spacingAndGlyphs">20</text>
<line x1="412.5" y1="492.49" x2="417.9" y2="492.49" stroke-width="1.9"/>
<text class="r" x="412.5" y="495.69" font-size="8.7" text-anchor="end" textLength="9.6" lengthAdjust="spacingAndGlyphs">30</text>
<line x1="412.5" y1="474.25" x2="417.9" y2="474.25" stroke-width="1.9"/>
<text class="r" x="412.5" y="477.45" font-size="8.7" text-anchor="end" textLength="9.6" lengthAdjust="spacingAndGlyphs">40</text>
<line x1="412.5" y1="456.01" x2="417.9" y2="456.01" stroke-width="1.9"/>
<text class="r" x="412.5" y="459.21" font-size="8.7" text-anchor="end" textLength="9.6" lengthAdjust="spacingAndGlyphs">50</text>
<line x1="412.5" y1="437.77" x2="417.9" y2="437.77" stroke-width="1.9"/>
<text class="r" x="412.5" y="440.97" font-size="8.7" text-anchor="end" textLength="9.6" lengthAdjust="spacingAndGlyphs">60</text>
<line x1="412.5" y1="419.53" x2="417.9" y2="419.53" stroke-width="1.9"/>
<text class="r" x="412.5" y="422.73" font-size="8.7" text-anchor="end" textLength="9.6" lengthAdjust="spacingAndGlyphs">70</text>
<line x1="412.5" y1="401.3" x2="417.9" y2="401.3" stroke-width="1.9"/>
<text class="r" x="412.5" y="404.5" font-size="8.7" text-anchor="end" textLength="9.6" lengthAdjust="spacingAndGlyphs">80</text>
<line x1="443.5" y1="547.2" x2="443.5" y2="551.2" stroke-width="2"/>
<line x1="493.5" y1="547.2" x2="493.5" y2="551.2" stroke-width="2"/>
<text class="b" x="434.9" y="562.2" font-size="8.3" textLength="18" lengthAdjust="spacingAndGlyphs">PBS</text>
<text class="b" x="484.5" y="562.2" font-size="8.3" textLength="18.3" lengthAdjust="spacingAndGlyphs">ALN</text>
<text class="ri" x="466" y="422.7" font-size="9.5" textLength="10" lengthAdjust="spacingAndGlyphs">ns</text>
<text class="b" font-size="10.6" text-anchor="middle" transform="translate(391.3 474) rotate(-90)" textLength="144.3" lengthAdjust="spacingAndGlyphs">CFU-C per 2x10<tspan dy="-4.4" font-size="7.4">4</tspan><tspan dy="4.4"> BM cells</tspan></text>
<circle cx="435.1" cy="446.2" r="2.45" fill="#fff" stroke="#000" stroke-width="2"/>
<circle cx="443.2" cy="452.4" r="2.45" fill="#fff" stroke="#000" stroke-width="2"/>
<circle cx="451.2" cy="449.6" r="2.45" fill="#fff" stroke="#000" stroke-width="2"/>
<circle cx="451.2" cy="453.3" r="2.45" fill="#fff" stroke="#000" stroke-width="2"/>
<circle cx="435.1" cy="455.4" r="2.45" fill="#fff" stroke="#000" stroke-width="2"/>
<circle cx="439.2" cy="458.8" r="2.45" fill="#fff" stroke="#000" stroke-width="2"/>
<circle cx="443.4" cy="458.8" r="2.45" fill="#fff" stroke="#000" stroke-width="2"/>
<circle cx="451.2" cy="457.4" r="2.45" fill="#fff" stroke="#000" stroke-width="2"/>
<circle cx="455.4" cy="464.2" r="2.45" fill="#fff" stroke="#000" stroke-width="2"/>
<circle cx="439.2" cy="464.6" r="2.45" fill="#fff" stroke="#000" stroke-width="2"/>
<circle cx="447.3" cy="465.8" r="2.45" fill="#fff" stroke="#000" stroke-width="2"/>
<circle cx="435.1" cy="471.5" r="2.45" fill="#fff" stroke="#000" stroke-width="2"/>
<circle cx="443.2" cy="472.2" r="2.45" fill="#fff" stroke="#000" stroke-width="2"/>
<circle cx="451.2" cy="472.2" r="2.45" fill="#fff" stroke="#000" stroke-width="2"/>
<circle cx="447.3" cy="460" r="2.45" fill="#fff" stroke="#000" stroke-width="2"/>
<line x1="424.9" y1="460.5" x2="461.2" y2="460.5" stroke-width="2.4"/>
<line x1="434.5" y1="463.4" x2="452" y2="463.4" stroke-width="1"/>
<line x1="434.5" y1="457.6" x2="452" y2="457.6" stroke-width="1"/>
<circle cx="485.4" cy="452.4" r="3" fill="#000" stroke="none"/>
<circle cx="489.5" cy="451.2" r="3" fill="#000" stroke="none"/>
<circle cx="493.5" cy="452.4" r="3" fill="#000" stroke="none"/>
<circle cx="497.4" cy="450.8" r="3" fill="#000" stroke="none"/>
<circle cx="501.5" cy="451.9" r="3" fill="#000" stroke="none"/>
<circle cx="485.4" cy="458.2" r="3" fill="#000" stroke="none"/>
<circle cx="501.5" cy="459.5" r="3" fill="#000" stroke="none"/>
<circle cx="493.5" cy="462.3" r="3" fill="#000" stroke="none"/>
<circle cx="497.4" cy="455.4" r="3" fill="#000" stroke="none"/>
<line x1="475.7" y1="454.9" x2="511.5" y2="454.9" stroke-width="2.4"/>
<text class="a" x="358.8" y="586.6" font-size="16.5">F</text>
<line x1="417.8" y1="586.8" x2="417.8" y2="734.9" stroke-width="2.5"/>
<line x1="412.3" y1="733.5" x2="520" y2="733.5" stroke-width="2.6"/>
<line x1="412.3" y1="733.5" x2="417.8" y2="733.5" stroke-width="1.9"/>
<text class="r" x="412.1" y="736.7" font-size="8.7" text-anchor="end" textLength="17.6" lengthAdjust="spacingAndGlyphs">0.00</text>
<line x1="412.3" y1="704.4" x2="417.8" y2="704.4" stroke-width="1.9"/>
<text class="r" x="412.1" y="707.6" font-size="8.7" text-anchor="end" textLength="17.6" lengthAdjust="spacingAndGlyphs">0.02</text>
<line x1="412.3" y1="675.3" x2="417.8" y2="675.3" stroke-width="1.9"/>
<text class="r" x="412.1" y="678.5" font-size="8.7" text-anchor="end" textLength="17.6" lengthAdjust="spacingAndGlyphs">0.04</text>
<line x1="412.3" y1="646.2" x2="417.8" y2="646.2" stroke-width="1.9"/>
<text class="r" x="412.1" y="649.4" font-size="8.7" text-anchor="end" textLength="17.6" lengthAdjust="spacingAndGlyphs">0.06</text>
<line x1="412.3" y1="617.1" x2="417.8" y2="617.1" stroke-width="1.9"/>
<text class="r" x="412.1" y="620.3" font-size="8.7" text-anchor="end" textLength="17.6" lengthAdjust="spacingAndGlyphs">0.08</text>
<line x1="412.3" y1="588" x2="417.8" y2="588" stroke-width="1.9"/>
<text class="r" x="412.1" y="591.2" font-size="8.7" text-anchor="end" textLength="17.6" lengthAdjust="spacingAndGlyphs">0.10</text>
<line x1="443.2" y1="733.5" x2="443.2" y2="737.5" stroke-width="2"/>
<line x1="493.2" y1="733.5" x2="493.2" y2="737.5" stroke-width="2"/>
<text class="b" x="434" y="748.8" font-size="8.3" textLength="18.2" lengthAdjust="spacingAndGlyphs">PBS</text>
<text class="b" x="484" y="748.8" font-size="8.3" textLength="18.7" lengthAdjust="spacingAndGlyphs">ALN</text>
<text class="ri" x="465" y="609.9" font-size="9.5" textLength="10.5" lengthAdjust="spacingAndGlyphs">ns</text>
<text class="b" font-size="10.6" text-anchor="middle" transform="translate(386.6 661) rotate(-90)" textLength="102" lengthAdjust="spacingAndGlyphs">%LKS Flk2<tspan dy="-4.6" font-size="7.5">-</tspan><tspan dy="4.6"> in BM</tspan></text>
<circle cx="442.7" cy="630" r="2.45" fill="#fff" stroke="#000" stroke-width="2"/>
<circle cx="434.6" cy="634.6" r="2.45" fill="#fff" stroke="#000" stroke-width="2"/>
<circle cx="450.8" cy="638.1" r="2.45" fill="#fff" stroke="#000" stroke-width="2"/>
<circle cx="442.7" cy="639.9" r="2.45" fill="#fff" stroke="#000" stroke-width="2"/>
<circle cx="434.6" cy="643.8" r="2.45" fill="#fff" stroke="#000" stroke-width="2"/>
<circle cx="439.4" cy="644.7" r="2.45" fill="#fff" stroke="#000" stroke-width="2"/>
<circle cx="451.2" cy="643.2" r="2.45" fill="#fff" stroke="#000" stroke-width="2"/>
<circle cx="434.6" cy="653.1" r="2.45" fill="#fff" stroke="#000" stroke-width="2"/>
<circle cx="442.7" cy="650.8" r="2.45" fill="#fff" stroke="#000" stroke-width="2"/>
<circle cx="446.6" cy="646.6" r="2.45" fill="#fff" stroke="#000" stroke-width="2"/>
<circle cx="451.2" cy="657.7" r="2.45" fill="#fff" stroke="#000" stroke-width="2"/>
<circle cx="442.7" cy="661.2" r="2.45" fill="#fff" stroke="#000" stroke-width="2"/>
<line x1="424.2" y1="645.2" x2="460.5" y2="645.2" stroke-width="2.4"/>
<line x1="434.5" y1="642.6" x2="453" y2="642.6" stroke-width="1"/>
<line x1="434.5" y1="648.5" x2="453" y2="648.5" stroke-width="1"/>
<circle cx="493.5" cy="631.6" r="3" fill="#000" stroke="none"/>
<circle cx="485.4" cy="636.2" r="3" fill="#000" stroke="none"/>
<circle cx="501.5" cy="638.8" r="3" fill="#000" stroke="none"/>
<circle cx="493.5" cy="640.4" r="3" fill="#000" stroke="none"/>
<circle cx="485.4" cy="649.2" r="3" fill="#000" stroke="none"/>
<circle cx="493.5" cy="649.2" r="3" fill="#000" stroke="none"/>
<circle cx="501.5" cy="647.3" r="3" fill="#000" stroke="none"/>
<circle cx="493.5" cy="658.2" r="3" fill="#000" stroke="none"/>
<line x1="475" y1="643.2" x2="511.5" y2="643.2" stroke-width="2.4"/>
<line x1="485.4" y1="639.7" x2="501.5" y2="639.7" stroke-width="1"/>
<line x1="485.4" y1="646.6" x2="501.5" y2="646.6" stroke-width="1"/>
</g>
</svg>
</body></html>
